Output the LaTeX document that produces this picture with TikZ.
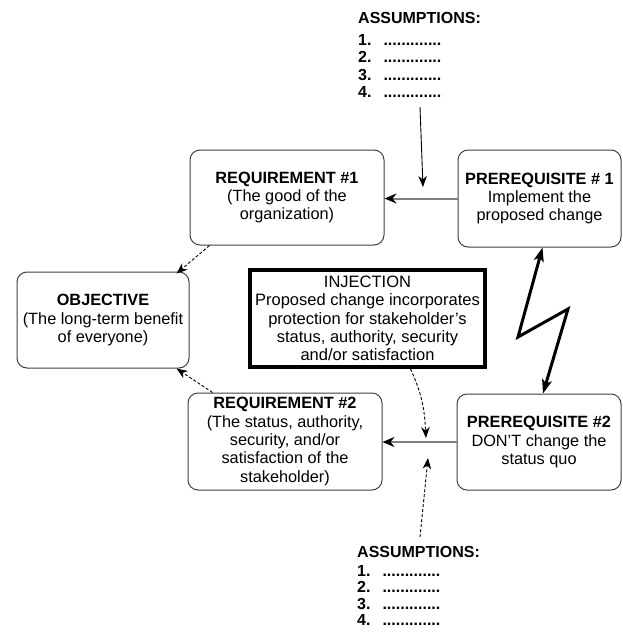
\documentclass[tikz,border=0pt]{standalone}
\usepackage{fontspec}
\setmainfont{Liberation Sans}
\usetikzlibrary{arrows.meta}

% dotted placeholder for an assumption entry
\newcommand{\blankentry}{\textbf{.............}}
% list of four numbered assumptions under a bold heading
\newcommand{\assumptionlist}[1]{%
  \begin{tabular}{@{}l@{\hspace{12pt}}l@{}}
    \multicolumn{2}{@{}l@{}}{\textbf{ASSUMPTIONS:}}\\[#1]
    \textbf{1.} & \blankentry\\
    \textbf{2.} & \blankentry\\
    \textbf{3.} & \blankentry\\
    \textbf{4.} & \blankentry
  \end{tabular}}

\begin{document}
\begin{tikzpicture}[x=1pt,y=-1pt,
  box/.style={draw=black!75, line width=1pt, rounded corners=10pt,
    inner sep=0pt, align=center,
    font=\fontsize{16.3}{18.4}\selectfont},
  injbox/.style={draw=black, line width=4pt, inner sep=0pt, align=center,
    font=\fontsize{16.5}{18.4}\selectfont},
  asm/.style={inner sep=0pt, font=\fontsize{16}{17.5}\selectfont},
  tip/.style={-{Stealth[length=11pt,width=8.5pt,inset=3.5pt]}},
  feed/.style={tip, line width=0.9pt, black},
  dashfeed/.style={feed, dash pattern=on 3pt off 2pt},
  link/.style={draw=black!50, line width=2pt,
    -{Stealth[length=12pt,width=10pt,inset=4pt,color=black,fill=black]}},
  bolt/.style={line width=3pt, miter limit=20,
    {Stealth[length=14pt,width=10pt,inset=3.5pt]}-{Stealth[length=14pt,width=10pt,inset=3.5pt]}}
]
\useasboundingbox[fill=white] (0,0) rectangle (623,632);

% the five statements of the cloud
\node[box, minimum width=194pt, minimum height=95pt] (req1) at (287,197.5)
  {\textbf{REQUIREMENT \#1}\\(The good of the\\organization)};
\node[box, minimum width=163pt, minimum height=97pt] (pre1) at (539.5,198.5)
  {\textbf{PREREQUISITE \# 1}\\Implement the\\proposed change};
\node[box, minimum width=172pt, minimum height=96pt] (obj) at (103,320)
  {\textbf{OBJECTIVE}\\(The long-term benefit\\of everyone)};
\node[box, minimum width=194pt, minimum height=97pt] (req2) at (285,441.5)
  {\textbf{REQUIREMENT \#2}\\(The status, authority,\\security, and/or\\satisfaction of the\\stakeholder)};
\node[box, minimum width=164pt, minimum height=96pt] (pre2) at (539,442)
  {\textbf{PREREQUISITE \#2}\\DON'T change the\\status quo};

% the injection that breaks the conflict
\node[injbox, minimum width=235pt, minimum height=97pt] (inj) at (367.5,318.5)
  {INJECTION\\Proposed change incorporates\\protection for stakeholder's\\status, authority, security\\and/or satisfaction};

% assumption lists
\node[asm, anchor=north west] (asmTop) at (358,11.5) {\assumptionlist{4pt}};
\node[asm, anchor=north west, font=\fontsize{16}{16.5}\selectfont] (asmBot) at (357,546) {\assumptionlist{2pt}};

% end points of the arrows that meet the links
\coordinate (topTail) at (420,107);
\coordinate (topTip) at (423,187);
\coordinate (botTail) at (420,537);
\coordinate (botTip) at (428,458);
\coordinate (injTip) at (426,438);
\coordinate (boltA) at (518,337);
\coordinate (boltB) at (568,309);

% necessary-condition links
\draw[link] (pre1.west) -- (pre1.west -| req1.east);
\draw[link] (pre2.west) -- (pre2.west -| req2.east);
\draw[dashfeed] ([xshift=20pt]req1.south west) -- ([xshift=-13pt,yshift=-2pt]obj.north east);
\draw[dashfeed] ([xshift=25pt]req2.north west) -- ([xshift=-13pt]obj.south east);

% assumptions and injection pointing at the links
\draw[feed] (topTail) -- (topTip);
\draw[dashfeed] (botTail) -- (botTip);
\draw[dashfeed] ([xshift=43pt]inj.south) to[out=-65,in=93] (injTip);

% conflict between the prerequisites
\draw[bolt] ([xshift=3pt]pre1.south) -- (boltA) -- (boltB) -- ([xshift=4pt]pre2.north);
\end{tikzpicture}
\end{document}
